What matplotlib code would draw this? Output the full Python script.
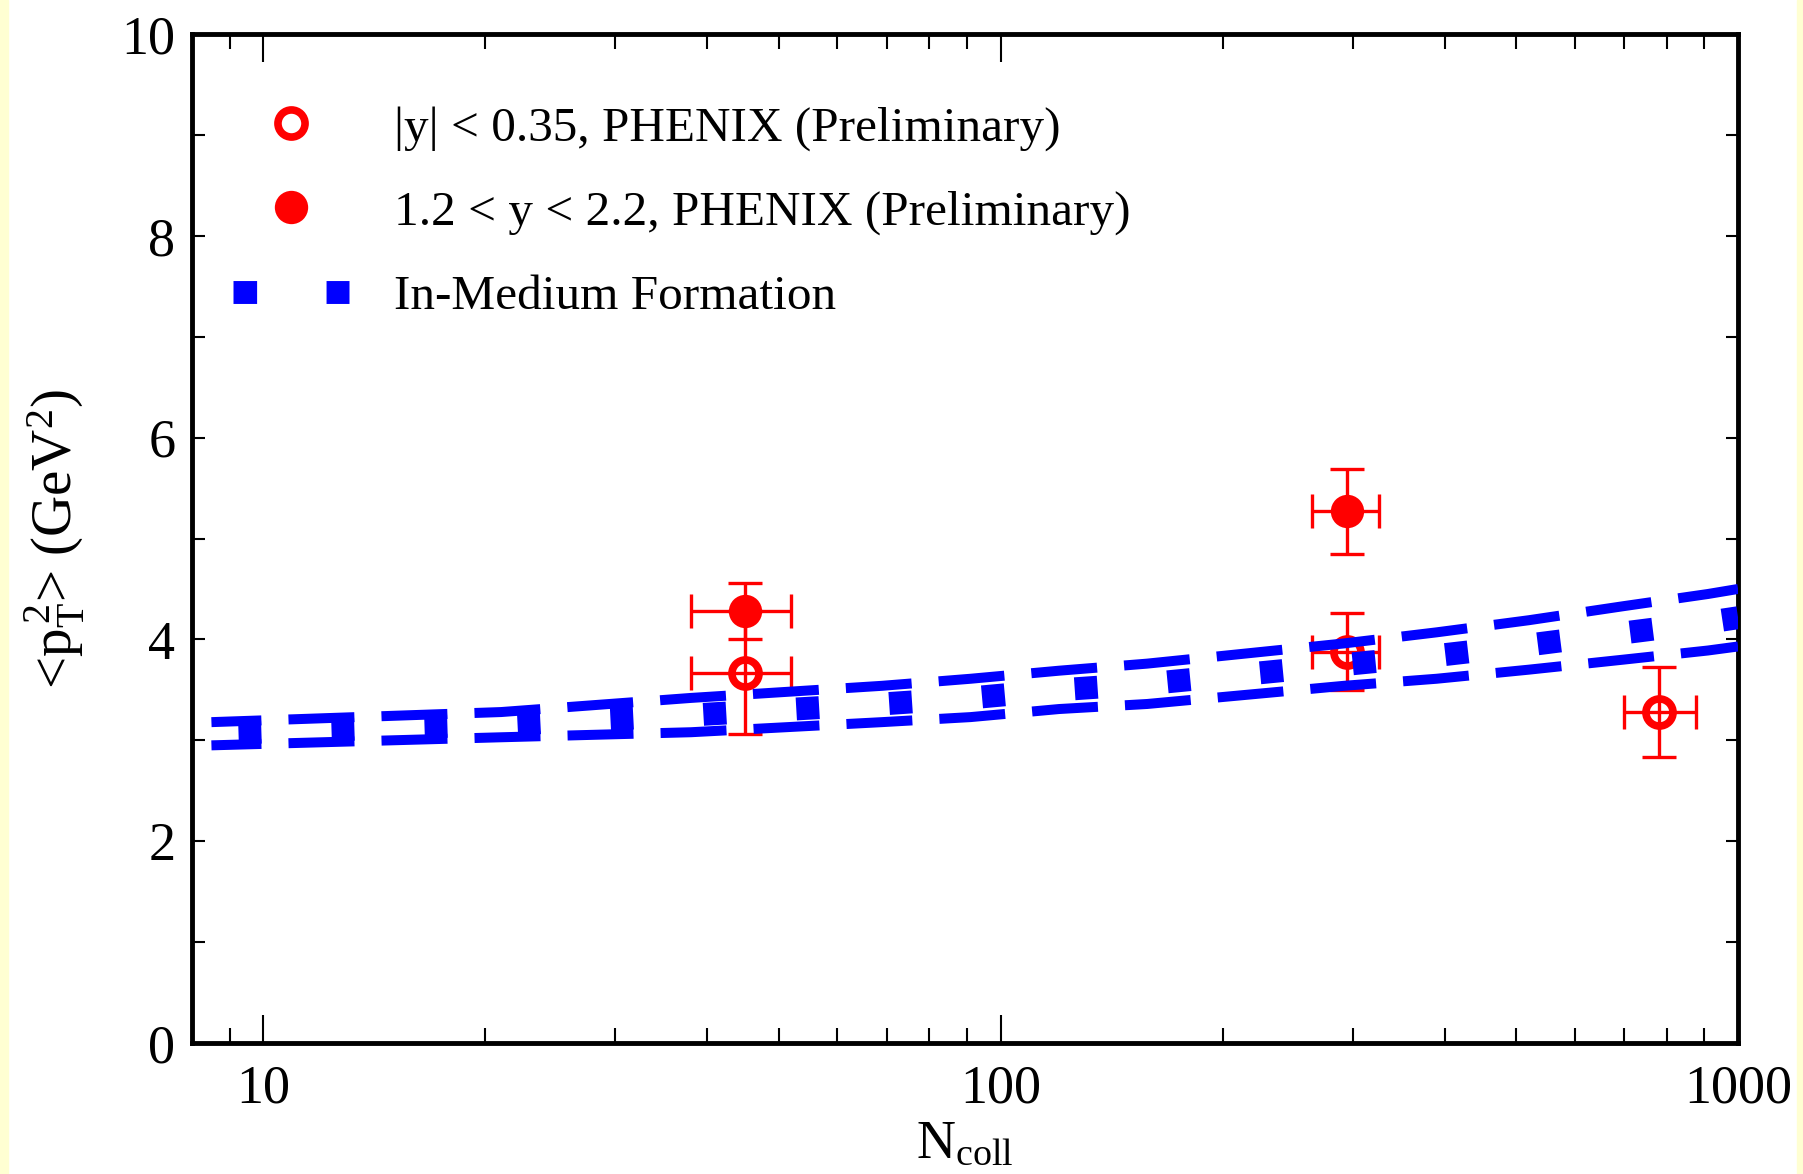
import numpy as np
import matplotlib
matplotlib.use('Agg')
import matplotlib.pyplot as plt
from matplotlib.lines import Line2D
from matplotlib.patches import Rectangle
from matplotlib.ticker import NullFormatter

plt.rcParams['font.family'] = ['Liberation Serif', 'DejaVu Serif']
plt.rcParams['mathtext.fontset'] = 'custom'
plt.rcParams['mathtext.rm'] = 'Liberation Serif'
plt.rcParams['mathtext.it'] = 'Liberation Serif:italic'
plt.rcParams['lines.scale_dashes'] = False

# PHENIX preliminary, |y| < 0.35
mid_n = [45, 295, 782]
mid_n_lo = [7, 31, 82]
mid_n_hi = [7, 31, 95]
mid_pt2 = [3.67, 3.88, 3.28]
mid_err = [0.61, 0.38, 0.45]

# PHENIX preliminary, 1.2 < y < 2.2
fwd_n = [45, 295]
fwd_n_err = [7, 31]
fwd_pt2 = [4.28, 5.27]
fwd_err = [0.28, 0.42]

# in-medium formation band (upper / lower edge)
band_n = [8.5, 21, 38, 69, 91, 120, 158, 292, 390, 520, 700, 910, 1000]
band_hi = [3.18, 3.28, 3.42, 3.54, 3.61, 3.69, 3.76, 3.96, 4.07, 4.19, 4.33, 4.45, 4.50]
band_lo = [2.95, 3.03, 3.08, 3.18, 3.23, 3.31, 3.36, 3.54, 3.61, 3.70, 3.80, 3.89, 3.93]

labels = ['|y| < 0.35, PHENIX (Preliminary)',
          '1.2 < y < 2.2, PHENIX (Preliminary)',
          'In-Medium Formation']

RED = '#ff0000'
BLUE = '#0000ff'

fig = plt.figure(figsize=(18.03, 11.74), dpi=100)
ax = fig.add_axes([0.1065, 0.1116, 0.8575, 0.8594])

# pale strips at the page edges
for x0 in (0.0, 1 - 6 / 1803):
    fig.patches.append(Rectangle((x0, 0), 8 / 1803, 1, transform=fig.transFigure,
                                 color='#ffffd2', zorder=-10))

# error bars first, symbols on top of them
err_kw = dict(fmt='none', ecolor=RED, elinewidth=2.4, capsize=12, capthick=2.4, zorder=3)
ax.errorbar(mid_n, mid_pt2, xerr=[mid_n_lo, mid_n_hi], yerr=mid_err, **err_kw)
ax.errorbar(fwd_n, fwd_pt2, xerr=fwd_n_err, yerr=fwd_err, **err_kw)

open_kw = dict(ls='none', marker='o', ms=19.5, mfc='none', mec=RED, mew=5.5)
fill_kw = dict(ls='none', marker='o', ms=24, mfc=RED, mec=RED, mew=0)
ax.plot(mid_n, mid_pt2, zorder=3.5, **open_kw)
ax.plot(fwd_n, fwd_pt2, zorder=3.5, **fill_kw)

# band: two dashed edges plus a thick square-dashed centre line
band_mid = (np.array(band_hi) + np.array(band_lo)) / 2
for vals in (band_hi, band_lo):
    ax.plot(band_n, vals, color=BLUE, lw=7.2, ls=(11.5, (47.5, 19.5)),
            dash_capstyle='butt', zorder=4)
ax.plot(band_n, band_mid, color=BLUE, lw=16.5, ls=(47.5, (16.5, 50.5)),
        dash_capstyle='butt', zorder=4)

ax.set_xscale('log')
ax.set_xlim(8.0, 1000)
ax.set_ylim(0, 10)
ax.set_xticks([10, 100, 1000])
ax.set_xticklabels(['10', '100', '1000'])
ax.set_xticks([9, 20, 30, 40, 50, 60, 70, 80, 90,
               200, 300, 400, 500, 600, 700, 800, 900], minor=True)
ax.xaxis.set_minor_formatter(NullFormatter())
ax.set_yticks(np.arange(0, 11, 2))
ax.set_yticks(np.arange(1, 10, 2), minor=True)

for s in ax.spines.values():
    s.set_linewidth(3.5)
ax.tick_params(which='both', direction='in', top=True, right=True, width=1.5,
               labelsize=39, color='black')
ax.tick_params(axis='x', which='major', length=20, pad=15)
ax.tick_params(axis='x', which='minor', length=10.5)
ax.tick_params(axis='y', which='both', length=9, pad=12)

ax.set_ylabel(r'<p$_\mathrm{T}^{\,2}$> (GeV$^2$)', fontsize=41)
ax.yaxis.set_label_coords(-0.068, 0.5)
ax.set_xlabel(r'N$_{\mathrm{coll}}$', fontsize=39)
ax.xaxis.set_label_coords(0.5, -0.075)

handles = [
    Line2D([], [], **open_kw),
    Line2D([], [], **fill_kw),
    Line2D([], [], color=BLUE, lw=16.5, ls=(0, (17, 50)), dash_capstyle='butt'),
]
ax.legend(handles, labels, loc='upper left', bbox_to_anchor=(0.0265, 0.929),
          frameon=False, fontsize=35.5, handlelength=2.36, handletextpad=0.9,
          labelspacing=0.80, borderpad=0, borderaxespad=0)

fig.savefig('out.png', dpi=100)
